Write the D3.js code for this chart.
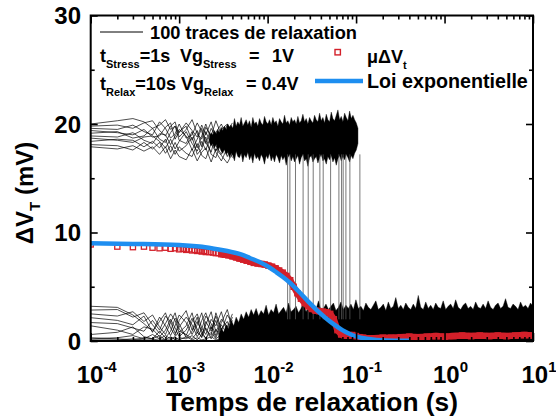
<!DOCTYPE html>
<html><head><meta charset="utf-8">
<script src="https://cdn.jsdelivr.net/npm/d3@7"></script>
<style>
body{margin:0;background:#fff}
svg text{font-family:"Liberation Sans",Arial,sans-serif;font-weight:bold;fill:#000}
</style></head><body><svg id="c" width="556" height="417"></svg>
<script>
// ---------------- data ----------------
const xMajorTicks = [1e-4, 1e-3, 1e-2, 1e-1, 1, 10];
const xTickExponents = ["-4", "-3", "-2", "-1", "0", "1"];
const yMajorTicks = [0, 10, 20, 30];
const yMinorTicks = [5, 15, 25];

// individual (sparse) traces, early times (s)
const sparseT = [0.0001,0.0002,0.0003,0.0004,0.0005,0.0006,0.0007,0.0008,0.0009,0.0010,0.0012,0.0014,0.0016,0.0018,0.0020,0.0023,0.0026,0.0030,0.0035,0.0040];
const upperTraces = [
 [20.0,20.3,20.5,20.2,19.6,19.9,20.4,19.5,19.8,19.2,20.1,19.4,18.8,19.9,19.0,20.2,18.6,19.5,20.0,18.9],
 [19.8,19.9,19.6,20.1,20.3,19.4,18.9,19.8,20.2,18.8,19.5,20.4,19.1,18.6,19.7,18.9,20.3,19.0,18.4,19.6],
 [19.6,19.5,19.9,19.3,19.0,20.2,19.6,18.7,19.1,20.0,18.7,19.0,20.1,19.3,18.2,19.6,18.8,17.9,19.4,20.1],
 [19.4,19.2,19.0,19.5,18.8,18.9,19.7,20.1,18.6,19.3,19.8,18.5,19.4,17.9,19.3,18.1,19.2,20.0,18.7,17.8],
 [19.15,19.3,18.7,18.9,19.6,18.6,18.3,19.2,19.8,18.5,18.2,19.3,17.8,18.9,20.0,18.6,17.5,18.8,19.9,18.4],
 [18.9,18.8,19.2,18.5,18.2,19.1,19.0,18.1,18.9,19.5,18.9,17.6,18.6,19.6,18.3,17.4,19.1,18.2,17.3,19.2],
 [18.7,18.5,18.3,18.8,18.9,18.4,17.8,18.6,17.7,18.4,19.3,18.2,17.5,18.4,17.6,19.0,18.0,17.2,18.6,17.6],
 [18.4,18.6,18.5,17.9,18.4,17.8,18.6,17.4,18.3,17.5,18.0,18.8,17.2,17.7,18.8,17.2,16.9,18.4,17.0,18.1],
 [18.1,18.0,17.6,18.3,17.7,18.3,17.3,18.0,17.2,17.9,17.3,17.0,18.2,17.1,16.8,18.2,17.4,16.6,17.8,16.9],
 [17.9,17.7,18.0,17.5,17.9,17.2,17.9,16.8,17.6,17.0,16.7,17.7,16.6,17.4,17.8,16.5,17.7,17.1,16.4,17.3]
];
const lowerTraces = [
 [3.2,3.1,2.4,1.6,0.9,1.8,2.6,1.2,0.5,1.9,2.8,1.0,2.2,0.6,1.5,2.7,0.8,2.0,1.3,2.5],
 [2.85,2.9,2.2,2.6,1.5,0.7,1.6,2.5,1.9,0.8,1.4,2.6,0.7,1.9,2.6,1.1,2.3,0.9,2.4,1.6],
 [2.5,2.3,2.7,1.8,2.4,1.3,0.6,1.7,2.6,1.1,0.5,1.8,2.5,1.2,0.6,2.0,1.4,2.7,0.7,1.9],
 [2.15,1.9,1.5,2.3,0.8,2.2,1.4,0.5,1.4,2.4,1.7,0.6,1.5,2.6,1.0,0.5,2.6,1.1,1.8,0.6],
 [1.7,1.6,1.2,0.9,1.9,1.0,2.3,1.8,0.7,1.3,2.2,1.5,0.4,1.1,2.3,1.6,0.5,1.7,2.9,1.2],
 [1.4,1.0,0.6,1.3,1.1,0.4,1.0,2.0,1.2,0.4,1.0,2.1,1.1,0.3,1.8,0.9,1.9,0.4,1.0,2.2],
 [0.6,0.8,1.3,0.4,0.2,0.9,0.3,0.9,2.1,1.6,0.3,0.9,1.8,0.9,0.2,1.3,0.3,1.5,0.6,0.3],
 [0.2,0.3,0.5,0.2,0.6,0.2,0.5,0.2,0.4,0.9,0.6,0.2,0.8,0.4,1.2,0.2,1.1,0.3,0.4,1.4],
 [0.3,0.2,0.1,0.3,0.2,0.5,0.1,0.4,0.1,0.3,0.2,0.5,0.1,0.6,0.3,0.8,0.2,0.6,1.1,0.2],
 [0.1,0.1,0.2,0.1,0.1,0.2,0.1,0.1,0.3,0.1,0.4,0.1,0.3,0.1,0.2,0.4,0.1,0.2,0.1,0.5]
];

// dense envelope of the traces still in the high state, sampled evenly (log) from upBandStart to upBandEnd
const upBandStart = 0.0022, upBandEnd = 0.105;
const upBandHi = [18.9,19.2,19.0,19.4,19.1,19.5,19.2,19.7,19.4,19.8, 19.5,20.0,19.7,19.9,19.6,20.5,19.8,20.2,19.9,20.6, 19.8,20.1,20.4,19.9,20.3,19.7,20.6,20.0,20.2,19.8, 20.5,20.1,19.9,20.7,20.2,20.0,20.4,19.9,20.6,20.1, 20.3,19.8,20.5,20.2,20.0,20.8,20.1,20.3,19.9,20.6, 20.2,20.4,20.0,20.7,20.1,20.3,20.9,20.2,20.5,20.0, 20.6,20.3,20.1,20.8,20.4,20.2,21.0,20.3,20.6,20.1, 20.9,20.4,20.2,21.1,20.5,20.3,20.8,21.3,20.4,20.7, 20.2,21.0,20.6,20.3,21.2,20.5,20.8,20.4,20.1,19.6];
const upBandLo = [18.3,18.0,18.2,17.8,18.1,17.6,17.9,17.5,17.3,17.7, 17.2,17.5,16.9,17.3,17.1,16.6,17.5,17.0,16.9,17.3, 16.5,17.2,16.9,17.4,16.7,17.1,16.4,17.3,16.8,17.0, 16.6,17.2,16.9,16.3,17.1,16.8,17.3,16.6,17.0,16.5, 17.2,16.9,16.4,17.1,16.7,17.0,16.2,16.9,17.2,16.6, 17.0,16.5,16.8,17.1,16.3,16.9,17.2,16.6,16.8,16.1, 16.9,17.1,16.5,16.8,17.0,16.4,16.9,17.2,16.6,16.8, 16.3,17.0,16.7,17.1,16.5,16.9,16.2,16.8,17.1,16.6, 17.0,16.7,17.2,16.9,16.5,17.1,16.8,17.3,17.6,18.2];

// dense envelope (top edge) of the traces in the low state, sampled evenly (log) from lowBandStart to lowBandEnd
const lowBandStart = 0.0028, lowBandEnd = 10;
const lowBandHi = [0.6,1.2,0.8,1.5,1.1,1.9,1.4,2.2,1.7,2.5, 2.0,2.7,2.2,2.9,2.4,3.0,2.3,2.8,2.5,3.3, 2.4,2.9,2.6,3.4,2.5,2.8,3.1,2.6,3.5,2.7, 2.9,3.2,2.6,3.0,3.6,2.7,3.1,2.8,3.3,2.9, 3.7,2.8,3.0,3.4,2.9,3.2,3.5,2.8,3.1,3.6, 2.9,3.3,3.0,3.4,2.9,3.8,3.0,3.2,2.8,3.5, 3.1,2.9,3.3,3.7,2.9,3.1,3.4,2.8,3.6,3.0, 3.2,4.0,3.0,3.3,2.9,3.5,3.1,2.9,3.4,3.0, 4.2,3.1,2.9,3.6,3.0,3.3,2.9,3.5,3.1,3.0, 3.7,2.9,3.2,3.4,3.0,3.8,3.1,2.9,3.3,3.5, 3.0,3.2,2.9,3.6,3.1,3.0,3.4,3.0,3.7,3.1, 2.9,3.3,3.5,3.0,3.2,3.9,3.1,3.0,3.4,3.2, 2.9,3.6,3.1,3.3,3.0,3.5,3.2];

// times where individual traces drop from high to low state (s)
const dropTimes = [0.01683,0.01786,0.02066,0.02518,0.02877,0.03276,0.03898,0.04249,0.05152,0.06394,0.06853,0.07145,0.07671,0.0851,0.1104];

// mean of the 100 traces (µΔVt)
const meanT = [0.0001,0.0002,0.0003,0.0004,0.0005,0.0006,0.0007,0.0008,0.0009,0.001,0.0011,0.0012,0.0013,0.0014,0.0015,0.0016,0.0017,0.0018,0.0019,0.002,0.0022,0.0024,0.0026,0.0028,0.003,0.0033,0.0036,0.004,0.0044,0.0048,0.0053,0.0058,0.0064,0.007,0.0077,0.0085,0.0093,0.0102,0.0112,0.0123,0.0135,0.0148,0.0163,0.018,0.0197,0.0217,0.0238,0.0262,0.0288,0.0317,0.0348,0.0383,0.0421,0.0463,0.051,0.056,0.0616,0.0678,0.0746,0.082,0.09,0.099,0.109,0.12,0.132,0.145,0.16,0.2,0.25,0.32,0.4,0.5,0.63,0.8,1.0,1.26,1.58,2.0,2.5,3.2,4.0,5.0,6.3,8.0,10];
const meanV = [8.9,8.7,8.65,8.7,8.6,8.55,8.6,8.5,8.55,8.45,8.5,8.4,8.45,8.35,8.4,8.3,8.35,8.25,8.3,8.2,8.2,8.15,8.1,8.1,8.0,7.95,7.9,7.8,7.7,7.6,7.5,7.4,7.3,7.2,7.15,7.1,7.05,6.95,6.85,6.7,6.5,6.3,6.0,5.6,5.0,4.4,3.9,3.5,3.2,2.95,2.8,2.75,2.7,2.65,2.5,2.0,1.0,0.6,0.5,0.5,0.55,0.45,0.35,0.3,0.25,0.25,0.25,0.3,0.3,0.35,0.4,0.35,0.4,0.45,0.4,0.45,0.5,0.45,0.5,0.45,0.5,0.45,0.5,0.55,0.5];

// exponential law
const expT = [0.0001,0.0003,0.001,0.0017,0.0025,0.0035,0.0049,0.0063,0.008,0.0106,0.0125,0.0149,0.018,0.0232,0.029,0.036,0.045,0.0547,0.07,0.0851,0.1,0.132,0.17,0.22,0.3,0.4];
const expV = [9.0,8.95,8.85,8.7,8.5,8.3,8.0,7.65,7.3,6.75,6.35,5.9,5.35,4.45,3.6,2.85,2.15,1.6,1.0,0.65,0.42,0.2,0.1,0.05,0.03,0.02];

// ---------------- chart ----------------
const svg = d3.select("#c");
const L = 90.7, R = 533, T = 15.5, B = 341;
const x = d3.scaleLog().domain([1e-4, 10]).range([L, R]);
const y = d3.scaleLinear().domain([0, 30]).range([B, T]);
const RED = "#d3202a", BLUE = "#1e8ef0";

svg.append("defs").append("clipPath").attr("id", "clip")
  .append("rect").attr("x", L).attr("y", T).attr("width", R - L).attr("height", B - T);
const plot = svg.append("g").attr("clip-path", "url(#clip)");

const line = d3.line().x(d => x(d[0])).y(d => y(d[1]));
const area = d3.area().x(d => x(d[0])).y0(d => y(d[1])).y1(d => y(d[2]));
// sampling grid position of the i-th envelope sample
const gridT = (a, b, n) => i => a * Math.pow(b / a, i / (n - 1));

// individual traces
upperTraces.concat(lowerTraces).forEach(tr => {
  plot.append("path").datum(sparseT.map((t, i) => [t, tr[i]]))
    .attr("d", line).attr("fill", "none").attr("stroke", "#000").attr("stroke-width", 0.7);
});

// dense bands
const gu = gridT(upBandStart, upBandEnd, upBandHi.length);
plot.append("path").datum(upBandHi.map((h, i) => [gu(i), upBandLo[i], h]))
  .attr("d", area).attr("fill", "#000").attr("stroke", "#000").attr("stroke-width", 0.4);
const gl = gridT(lowBandStart, lowBandEnd, lowBandHi.length);
plot.append("path").datum(lowBandHi.map((h, i) => [gl(i), 0, h]))
  .attr("d", area).attr("fill", "#000").attr("stroke", "#000").attr("stroke-width", 0.4);

// drops
plot.selectAll("line.drop").data(dropTimes).join("line").attr("class", "drop")
  .attr("x1", d => x(d)).attr("x2", d => x(d))
  .attr("y1", y(17.2)).attr("y2", y(2))
  .attr("stroke", "#555").attr("stroke-width", 0.8);

// mean: thick band where points are dense, squares where sparse
const meanPts = meanT.map((t, i) => [t, meanV[i]]);
plot.append("path").datum(meanPts.filter(d => d[0] >= 0.0028))
  .attr("d", line).attr("fill", "none").attr("stroke", RED).attr("stroke-width", 6.5)
  .attr("stroke-linejoin", "round");
plot.selectAll("rect.m").data(meanPts).join("rect")
  .attr("class", "m")
  .attr("x", d => x(d[0]) - 2.6).attr("y", d => y(d[1]) - 2.6)
  .attr("width", 5.2).attr("height", 5.2)
  .attr("fill", "none").attr("stroke", RED).attr("stroke-width", 1.3);

// exponential law
plot.append("path").datum(expT.map((t, i) => [t, expV[i]]))
  .attr("d", d3.line().x(d => x(d[0])).y(d => y(d[1])).curve(d3.curveMonotoneX)).attr("fill", "none")
  .attr("stroke", BLUE).attr("stroke-width", 4.5);

// axes / ticks
const xMinor = x.ticks().filter(t => !xMajorTicks.some(m => Math.abs(m - t) / m < 1e-9));
function styleAxis(g) { g.select(".domain").remove(); g.selectAll("line").attr("stroke", "#000").attr("stroke-width", 1.6); }
svg.append("g").attr("transform", `translate(0,${B})`).call(d3.axisBottom(x).tickValues(xMajorTicks).tickSize(-8).tickFormat("")).call(styleAxis);
svg.append("g").attr("transform", `translate(0,${B})`).call(d3.axisBottom(x).tickValues(xMinor).tickSize(-4).tickFormat("")).call(styleAxis);
svg.append("g").attr("transform", `translate(0,${T})`).call(d3.axisTop(x).tickValues(xMajorTicks).tickSize(-8).tickFormat("")).call(styleAxis);
svg.append("g").attr("transform", `translate(0,${T})`).call(d3.axisTop(x).tickValues(xMinor).tickSize(-4).tickFormat("")).call(styleAxis);
svg.append("g").attr("transform", `translate(${L},0)`).call(d3.axisLeft(y).tickValues(yMajorTicks).tickSize(-7).tickFormat("")).call(styleAxis);
svg.append("g").attr("transform", `translate(${L},0)`).call(d3.axisLeft(y).tickValues(yMinorTicks).tickSize(-4).tickFormat("")).call(styleAxis);
svg.append("g").attr("transform", `translate(${R},0)`).call(d3.axisRight(y).tickValues(yMajorTicks).tickSize(-7).tickFormat("")).call(styleAxis);
svg.append("g").attr("transform", `translate(${R},0)`).call(d3.axisRight(y).tickValues(yMinorTicks).tickSize(-4).tickFormat("")).call(styleAxis);

svg.append("rect").attr("x", L).attr("y", T).attr("width", R - L).attr("height", B - T)
  .attr("fill", "none").attr("stroke", "#000").attr("stroke-width", 2);

// tick labels
xMajorTicks.forEach((t, i) => {
  const tx = svg.append("text").attr("x", x(t) + 6).attr("y", 383).attr("text-anchor", "middle").attr("font-size", 24);
  tx.append("tspan").text("10");
  tx.append("tspan").attr("font-size", 15).attr("dy", -11).text(xTickExponents[i]);
});
yMajorTicks.forEach(v => {
  svg.append("text").attr("x", 81).attr("y", y(v) + 8.5).attr("text-anchor", "end").attr("font-size", 24).text(v);
});

// fit a text to a target width by adjusting its font size
function fitWidth(sel, target) {
  const w = sel.node().getComputedTextLength();
  const fs = +sel.attr("font-size");
  if (w > 0) sel.attr("font-size", (fs * target / w).toFixed(2));
  return sel;
}

// axis titles
const xt = svg.append("text").attr("x", 312).attr("y", 411).attr("text-anchor", "middle").attr("font-size", 25).text("Temps de relaxation (s)");
fitWidth(xt, 292);
const yt = svg.append("text").attr("transform", "translate(33,193) rotate(-90)").attr("text-anchor", "middle").attr("font-size", 24);
yt.append("tspan").text("\u0394V");
yt.append("tspan").attr("font-size", 15).attr("dy", 7).text("T");
yt.append("tspan").attr("dy", -7).text(" (mV)");

// legend
svg.append("line").attr("x1", 100).attr("x2", 143).attr("y1", 32).attr("y2", 32).attr("stroke", "#000").attr("stroke-width", 1);
fitWidth(svg.append("text").attr("x", 150).attr("y", 38.5).attr("font-size", 18).text("100 traces de relaxation"), 207);

function subText(xp, yp, main, sub, rest) {
  const t = svg.append("text").attr("x", xp).attr("y", yp).attr("font-size", 18);
  t.append("tspan").text(main);
  t.append("tspan").attr("font-size", 11).attr("dy", 6).text(sub);
  if (rest) t.append("tspan").attr("dy", -6).text(rest);
  return t;
}
subText(100, 62, "t", "Stress", "=1s");
subText(180, 62, "Vg", "Stress");
svg.append("text").attr("x", 249).attr("y", 62).attr("font-size", 18).text("=");
svg.append("text").attr("x", 272).attr("y", 62).attr("font-size", 18).text("1V");
subText(100, 90, "t", "Relax", "=10s");
subText(181, 90, "Vg", "Relax");
svg.append("text").attr("x", 246).attr("y", 90).attr("font-size", 18).text("= 0.4V");

svg.append("rect").attr("x", 335).attr("y", 49.5).attr("width", 5.4).attr("height", 5.4)
  .attr("fill", "none").attr("stroke", RED).attr("stroke-width", 1.4);
subText(367, 63, "\u03bc\u0394V", "t");
svg.append("line").attr("x1", 315).attr("x2", 363).attr("y1", 81).attr("y2", 81).attr("stroke", BLUE).attr("stroke-width", 4.5);
fitWidth(svg.append("text").attr("x", 367).attr("y", 87.5).attr("font-size", 19).text("Loi exponentielle"), 161);
</script></body></html>
